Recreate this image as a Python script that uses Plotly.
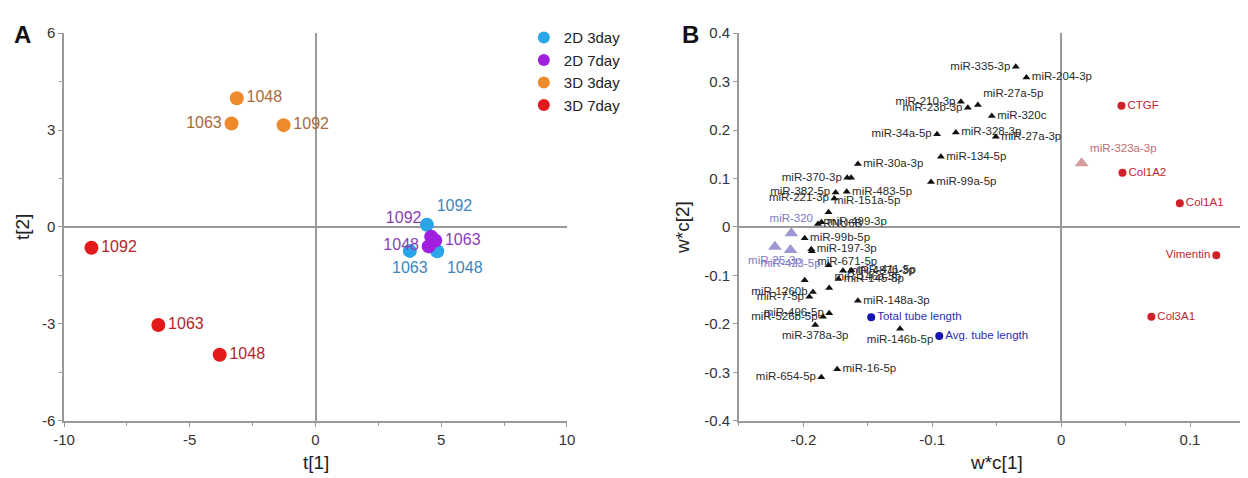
import plotly.graph_objects as go

FONT = "Liberation Sans, Arial, sans-serif"

# ---------------- Panel A data ----------------
groups = ["2D 3day", "2D 7day", "3D 3day", "3D 7day"]
group_colors = ["#2AA5E8", "#A11FDF", "#EE8A2B", "#E31A1C"]
label_colors = ["#3C86BE", "#8B3DB8", "#A8693C", "#B3262B"]
a_samples = {
    "2D 3day": ["1092", "1063", "1048"],
    "2D 7day": ["1092", "1063", "1048"],
    "3D 3day": ["1048", "1063", "1092"],
    "3D 7day": ["1092", "1063", "1048"],
}
a_t1 = {
    "2D 3day": [4.43, 3.75, 4.84],
    "2D 7day": [4.60, 4.76, 4.50],
    "3D 3day": [-3.13, -3.34, -1.27],
    "3D 7day": [-8.91, -6.25, -3.81],
}
a_t2 = {
    "2D 3day": [0.07, -0.74, -0.75],
    "2D 7day": [-0.30, -0.42, -0.60],
    "3D 3day": [3.98, 3.20, 3.15],
    "3D 7day": [-0.64, -3.03, -3.95],
}
a_pos = {
    "2D 3day": ["top right", "bottom center", "bottom right"],
    "2D 7day": ["top left", "middle right", "middle left"],
    "3D 3day": ["middle right", "middle left", "middle right"],
    "3D 7day": ["middle right", "middle right", "middle right"],
}
a_xticks = [-10, -5, 0, 5, 10]
a_xticktext = ["-10", "-5", "0", "5", "10"]
a_yticks = [-6, -3, 0, 3, 6]
a_yticktext = ["-6", "-3", "0", "3", "6"]

# ---------------- Panel B data ----------------
mir_names = ["miR-335-3p", "miR-204-3p", "miR-27a-5p", "miR-210-3p", "miR-23b-3p",
             "miR-320c", "miR-34a-5p", "miR-328-3p", "miR-27a-3p", "miR-30a-3p",
             "miR-134-5p", "miR-370-3p", "", "miR-99a-5p", "miR-382-5p",
             "miR-483-5p", "miR-221-3p", "miR-151a-5p", "RNU6B", "miR-499-3p",
             "miR-99b-5p", "miR-197-3p", "miR-671-5p", "", "miR-487b-3p",
             "miR-411-5p", "miR-145-5p", "", "miR-1260b", "miR-7-5p",
             "miR-146a-5p", "miR-148a-3p", "miR-526b-5p", "miR-496-5p", "miR-378a-3p",
             "miR-146b-5p", "miR-654-5p", "miR-16-5p"]
mir_x = [-0.0352, -0.0269, -0.0646, -0.0778, -0.0724,
         -0.0538, -0.0963, -0.0817, -0.0507, -0.1577,
         -0.0933, -0.1660, -0.1630, -0.1010, -0.1750,
         -0.1664, -0.1760, -0.1805, -0.1887, -0.1860,
         -0.1990, -0.1939, -0.1935, -0.1805, -0.1693,
         -0.1629, -0.1728, -0.1990, -0.1926, -0.1954,
         -0.1800, -0.1577, -0.1848, -0.1800, -0.1908,
         -0.1250, -0.1861, -0.1738]
mir_y = [0.3305, 0.3080, 0.2515, 0.2580, 0.2460,
         0.2290, 0.1910, 0.1950, 0.1860, 0.1300,
         0.1450, 0.1017, 0.1017, 0.0930, 0.0710,
         0.0728, 0.0590, 0.0305, 0.0062, 0.0100,
         -0.0233, -0.0460, -0.0500, -0.0788, -0.0900,
         -0.0890, -0.1072, -0.1097, -0.1338, -0.1440,
         -0.1260, -0.1520, -0.1850, -0.1780, -0.2020,
         -0.2100, -0.3100, -0.2934]
mir_pos = ["middle left", "middle right", "top right", "middle left", "middle left",
           "middle right", "middle left", "middle right", "middle right", "middle right",
           "middle right", "middle left", "middle right", "middle right", "middle left",
           "middle right", "middle left", "top right", "middle right", "middle right",
           "middle right", "middle right", "bottom right", "middle right", "middle right",
           "middle right", "middle right", "middle right", "middle left", "middle left",
           "top right", "middle right", "middle left", "middle left", "bottom center",
           "bottom center", "middle left", "middle right"]

ref_names = ["miR-320", "miR-25-3p", "miR-423-5p"]
ref_x = [-0.2094, -0.2221, -0.2100]
ref_y = [-0.0130, -0.0406, -0.0474]
ref_pos = ["top center", "bottom center", "bottom center"]

pos_mir_names = ["miR-323a-3p"]
pos_mir_x = [0.0159]
pos_mir_y = [0.1315]

gene_names = ["CTGF", "Col1A2", "Col1A1", "Vimentin", "Col3A1"]
gene_x = [0.0468, 0.0476, 0.0921, 0.1204, 0.0700]
gene_y = [0.2500, 0.1120, 0.0489, -0.0581, -0.1850]
gene_pos = ["middle right", "middle right", "middle right", "middle left", "middle right"]

tube_names = ["Total tube length", "Avg. tube length"]
tube_x = [-0.1474, -0.0946]
tube_y = [-0.1860, -0.2250]

b_xticks = [-0.2, -0.1, 0, 0.1]
b_xticktext = ["-0.2", "-0.1", "0", "0.1"]
b_yticks = [-0.4, -0.3, -0.2, -0.1, 0, 0.1, 0.2, 0.3, 0.4]
b_yticktext = ["-0.4", "-0.3", "-0.2", "-0.1", "0", "0.1", "0.2", "0.3", "0.4"]

fig = go.Figure()

# Panel A traces
for g, c, lc in zip(groups, group_colors, label_colors):
    fig.add_trace(go.Scatter(
        x=a_t1[g], y=a_t2[g], mode="markers+text", name=g,
        text=a_samples[g], textposition=a_pos[g],
        textfont=dict(family=FONT, size=16, color=lc),
        marker=dict(size=14, color=c),
        xaxis="x", yaxis="y", cliponaxis=False,
    ))

# Panel B traces
fig.add_trace(go.Scatter(
    x=mir_x, y=mir_y, mode="markers+text", text=mir_names, textposition=mir_pos,
    textfont=dict(family=FONT, size=11.5, color="#2a2a2a"),
    marker=dict(symbol="triangle-up", size=7, color="#111111"),
    xaxis="x2", yaxis="y2", showlegend=False, cliponaxis=False,
))
fig.add_trace(go.Scatter(
    x=ref_x, y=ref_y, mode="markers+text", text=ref_names, textposition=ref_pos,
    textfont=dict(family=FONT, size=11.5, color="#7C79C4"),
    marker=dict(symbol="triangle-up", size=12, color="#9C99D2"),
    xaxis="x2", yaxis="y2", showlegend=False, cliponaxis=False,
))
fig.add_trace(go.Scatter(
    x=pos_mir_x, y=pos_mir_y, mode="markers+text", text=pos_mir_names,
    textposition="top right",
    textfont=dict(family=FONT, size=11.5, color="#C26A6E"),
    marker=dict(symbol="triangle-up", size=12, color="#D49A9C"),
    xaxis="x2", yaxis="y2", showlegend=False, cliponaxis=False,
))
fig.add_trace(go.Scatter(
    x=gene_x, y=gene_y, mode="markers+text", text=gene_names, textposition=gene_pos,
    textfont=dict(family=FONT, size=11.5, color="#C0262E"),
    marker=dict(size=8, color="#D0202A"),
    xaxis="x2", yaxis="y2", showlegend=False, cliponaxis=False,
))
fig.add_trace(go.Scatter(
    x=tube_x, y=tube_y, mode="markers+text", text=tube_names, textposition="middle right",
    textfont=dict(family=FONT, size=11.5, color="#2E2EB8"),
    marker=dict(size=8, color="#1616B0"),
    xaxis="x2", yaxis="y2", showlegend=False, cliponaxis=False,
))

axis_common = dict(
    showgrid=False, showline=True, linecolor="#9a9a9a", linewidth=1.5,
    zeroline=True, zerolinecolor="#9a9a9a", zerolinewidth=1.5,
    ticks="outside", ticklen=4, tickcolor="#9a9a9a", automargin=False,
    tickfont=dict(family=FONT, size=15, color="#333333"),
)

TITLE_FONT = dict(family=FONT, size=19, color="#222222")

fig.update_layout(
    width=1240, height=470,
    margin=dict(l=0, r=0, t=0, b=0, autoexpand=False),
    paper_bgcolor="white", plot_bgcolor="white",
    font=dict(family=FONT),
    xaxis=dict(domain=[0.0452, 0.4508], range=[-10, 10], anchor="y",
               tickvals=a_xticks, ticktext=a_xticktext,
               minor=dict(dtick=2.5, ticks="outside", ticklen=3, tickcolor="#9a9a9a"),
               **axis_common),
    yaxis=dict(domain=[0.1213, 0.9468], range=[-6, 6], anchor="x",
               tickvals=a_yticks, ticktext=a_yticktext,
               minor=dict(dtick=1.5, ticks="outside", ticklen=3, tickcolor="#9a9a9a"),
               **axis_common),
    xaxis2=dict(domain=[0.5895, 1.0], range=[-0.25, 0.145], anchor="y2",
                tickvals=b_xticks, ticktext=b_xticktext,
                minor=dict(dtick=0.05, ticks="outside", ticklen=3, tickcolor="#9a9a9a"),
                **axis_common),
    yaxis2=dict(domain=[0.1213, 0.9468], range=[-0.4, 0.4], anchor="x2",
                tickvals=b_yticks, ticktext=b_yticktext,
                **axis_common),
    legend=dict(x=0.416, y=0.972, xanchor="left", yanchor="top",
                font=dict(family=FONT, size=15, color="#222222"),
                bgcolor="rgba(0,0,0,0)", itemsizing="constant",
                tracegroupgap=0, itemwidth=30),
    annotations=[
        dict(text="<b>A</b>", x=0.0113, y=0.9426, xref="paper", yref="paper",
             xanchor="center", yanchor="middle",
             showarrow=False, font=dict(family=FONT, size=24, color="#111111")),
        dict(text="<b>B</b>", x=0.5508, y=0.9426, xref="paper", yref="paper",
             xanchor="center", yanchor="middle",
             showarrow=False, font=dict(family=FONT, size=24, color="#111111")),
        dict(text="t[1]", x=0.2484, y=0.034, xref="paper", yref="paper",
             xanchor="center", yanchor="middle", showarrow=False, font=TITLE_FONT),
        dict(text="t[2]", x=0.0113, y=0.534, xref="paper", yref="paper",
             xanchor="center", yanchor="middle", textangle=-90,
             showarrow=False, font=TITLE_FONT),
        dict(text="w*c[1]", x=0.7968, y=0.034, xref="paper", yref="paper",
             xanchor="center", yanchor="middle", showarrow=False, font=TITLE_FONT),
        dict(text="w*c[2]", x=0.5435, y=0.534, xref="paper", yref="paper",
             xanchor="center", yanchor="middle", textangle=-90,
             showarrow=False, font=TITLE_FONT),
    ],
)

fig.write_html("out.html")
